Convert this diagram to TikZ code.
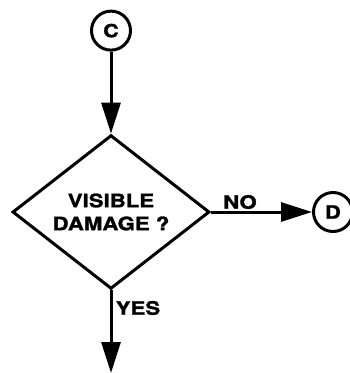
\documentclass[tikz,border=0pt]{standalone}
\usepackage{fontspec}
\setmainfont{TeX Gyre Heros}[FakeStretch=1.2, BoldFeatures={FakeBold=1.5}]
\usepackage{tikz}
\usetikzlibrary{arrows.meta, positioning, shapes.geometric}

\begin{document}
\begin{tikzpicture}[
    x=1pt, y=1pt,
    conn/.style={draw, circle, line width=3pt, minimum size=39pt, inner sep=0pt, font=\fontsize{18}{20}\selectfont\bfseries},
    decision/.style={draw, diamond, line width=3pt, minimum width=197pt, minimum height=153pt, inner sep=0pt, align=center, font=\fontsize{18.5}{23}\selectfont\bfseries},
    lbl/.style={font=\fontsize{18.5}{20}\selectfont\bfseries, inner sep=0pt},
    flow/.style={line width=3pt, -{Triangle[length=31pt, width=19pt]}},
    node distance=82pt and 101pt
  ]
  \useasboundingbox (0,0) rectangle (350,-373);

  \node[decision] (damage) at (111,-212) {VISIBLE\\DAMAGE ?};
  \node[conn, above=of damage] (connC) {C};
  \node[conn, right=of damage] (connD) {D};
  \coordinate (exit) at (111,-373);

  \draw[flow] (connC) -- (damage);
  \draw[flow] (damage) -- (connD);
  \draw[flow] (damage) -- (exit);

  \node[lbl] at (240,-202) (no) {NO};
  \node[lbl] at (138,-308) (yes) {YES};
\end{tikzpicture}
\end{document}
